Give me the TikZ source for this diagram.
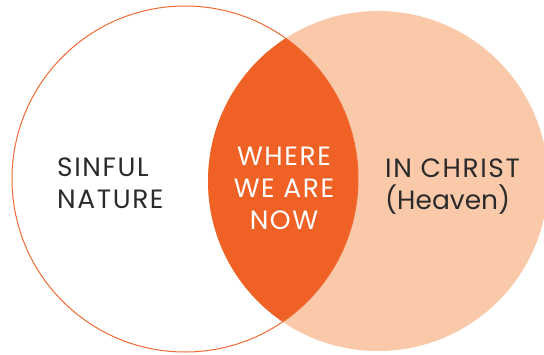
\documentclass[tikz,border=0pt]{standalone}
\usepackage{fontspec}
\setmainfont{Poppins}[LetterSpace = 6]
\newfontfamily\plainfont{Poppins}
\definecolor{rim}{HTML}{F26A32}
\definecolor{lens}{HTML}{EF6125}
\definecolor{peach}{HTML}{F9C9A9}
\definecolor{ink}{HTML}{2B2B2B}

\begin{document}
\begin{tikzpicture}[x = 1pt, y = -1pt,
  label text/.style = {font = \fontsize{26.5}{32}\selectfont, inner sep = 0pt}]
  \useasboundingbox (0, 0) rectangle (544, 354);
  % centres of both circles
  \coordinate (sinful) at (185, 179);
  \coordinate (christ) at (378, 181);
  % heaven circle and the overlap cut out by the left one
  \fill[peach] (christ) circle[radius = 170];
  \begin{scope}
    \clip (sinful) circle[radius = 173];
    \fill[lens] (christ) circle[radius = 170];
  \end{scope}
  \draw[rim, line width = 1pt] (sinful) circle[radius = 173];
  % labels
  \node[label text, ink, align = left, anchor = west]
  (nature) at (57, 183) {SINFUL\\NATURE};
  \node[label text, white, align = center]
  (now) at (284, 188) {WHERE\\WE ARE\\NOW};
  \node[label text, ink, align = left, anchor = west]
  (heaven) at (385, 187) {IN CHRIST\\{\plainfont(Heaven)}};
\end{tikzpicture}
\end{document}
